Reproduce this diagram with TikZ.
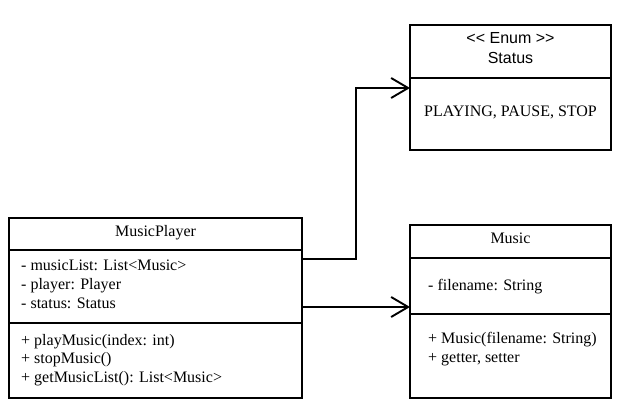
\documentclass[tikz,border=0pt]{standalone}
\usepackage{fontspec}
\setmainfont{Liberation Serif}
\newfontfamily\umlsans{Liberation Sans}
\usetikzlibrary{arrows.meta}
\begin{document}
\begin{tikzpicture}[x=1pt,y=-1pt,
  box/.style={draw,line width=1.8pt},
  sep/.style={line width=1.6pt},
  txt/.style={inner sep=0pt,anchor=mid west,font=\fontsize{16}{18}\selectfont},
  ctxt/.style={inner sep=0pt,anchor=mid,font=\fontsize{16}{18}\selectfont},
  conn/.style={line width=1.9pt,-{Straight Barb[length=17pt,width=20pt,line width=1.9pt]}}]
\useasboundingbox (0,0) rectangle (622,406);
% Status
\draw[box] (410,25) rectangle (611,150);
\draw[sep] (410,78) -- (611,78);
\node[ctxt,font=\umlsans\fontsize{16}{18}\selectfont] (st1) at (510.5,41) {<< Enum >>};
\node[ctxt,font=\umlsans\fontsize{16}{18}\selectfont] (st2) at (510.5,61) {Status};
\node[ctxt] (st3) at (510.5,114) {PLAYING, PAUSE, STOP};
\coordinate (stin) at (410,88);
% MusicPlayer
\draw[box] (9,218) rectangle (302,398);
\draw[sep] (9,250) -- (302,250);
\draw[sep] (9,323) -- (302,323);
\node[ctxt] (mp) at (155.5,234) {MusicPlayer};
\node[txt] (f1) at (21,268) {- musicList: List<Music>};
\node[txt] (f2) at (21,287) {- player: Player};
\node[txt] (f3) at (21,306) {- status: Status};
\node[txt] (m1) at (21,343) {+ playMusic(index: int)};
\node[txt] (m2) at (21,361.5) {+ stopMusic()};
\node[txt] (m3) at (21,380) {+ getMusicList(): List<Music>};
\coordinate (mpa) at (302,259);
\coordinate (mpb) at (302,307);
% Music
\draw[box] (410,225) rectangle (611,398);
\draw[sep] (410,258) -- (611,258);
\draw[sep] (410,314) -- (611,314);
\node[ctxt] (mu) at (510.5,241) {Music};
\node[txt] (g1) at (428,288) {- filename: String};
\node[txt] (h1) at (428,341) {+ Music(filename: String)};
\node[txt] (h2) at (428,360) {+ getter, setter};
\coordinate (muin) at (410,307);
% connectors
\draw[conn] (mpa) -| (356,88) -- (stin);
\draw[conn] (mpb) -- (muin);
\end{tikzpicture}
\end{document}
